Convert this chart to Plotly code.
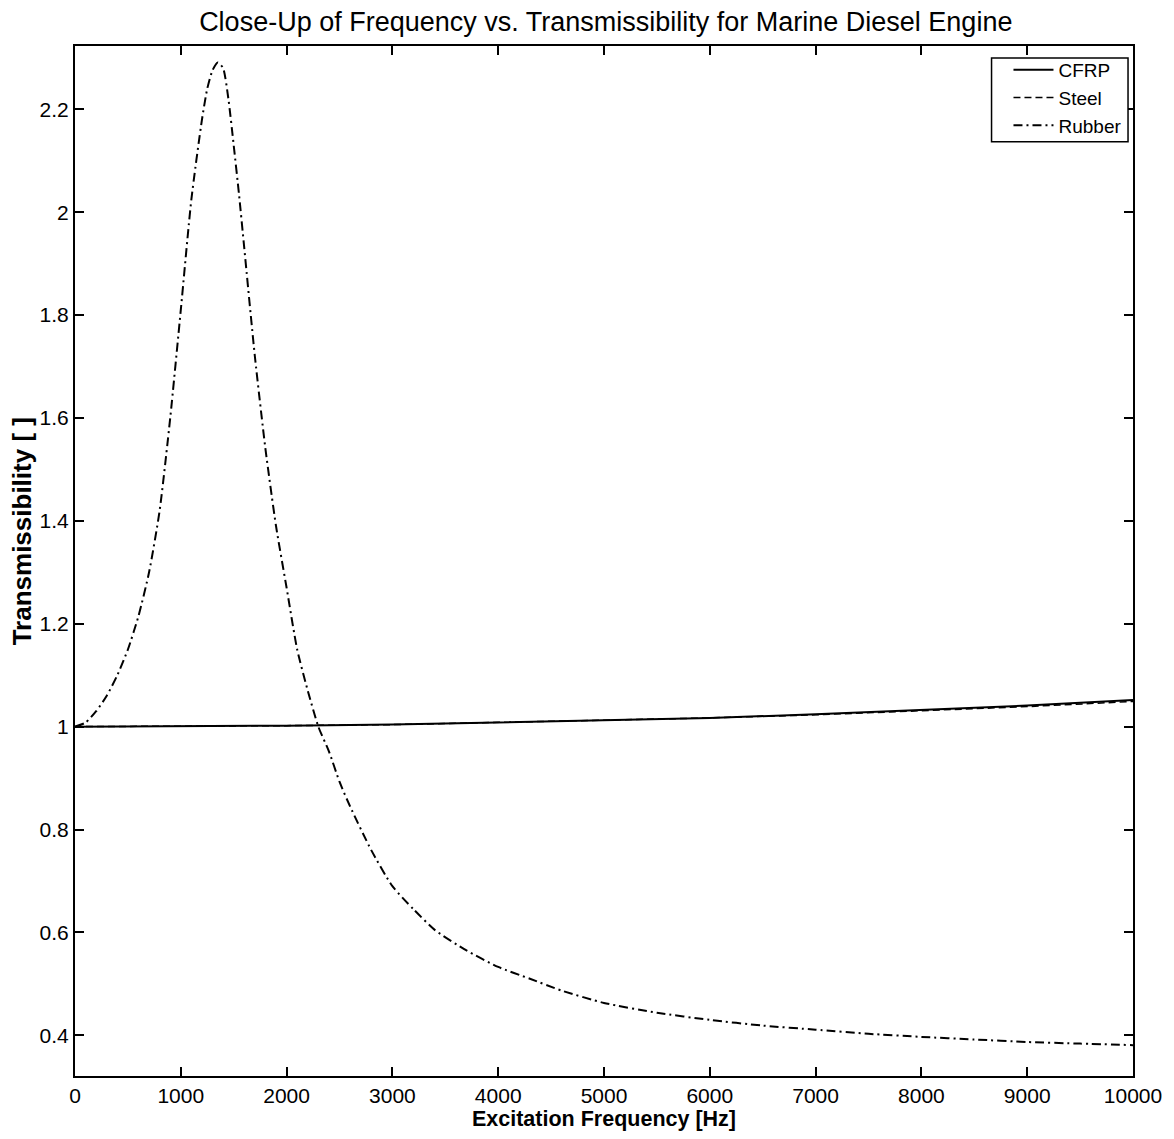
import plotly.graph_objects as go

# ---- data ----
freq_line = [0, 1000, 2000, 3000, 4000, 5000, 6000, 7000, 8000, 9000, 10000]
cfrp = [1.0, 1.0005, 1.002, 1.004, 1.008, 1.012, 1.017, 1.024, 1.032, 1.041, 1.052]
steel = [1.0, 1.0005, 1.002, 1.004, 1.008, 1.012, 1.017, 1.023, 1.031, 1.039, 1.049]

freq_rubber = [0, 100, 200, 300, 400, 500, 600, 700, 800, 900, 1000, 1100, 1200,
               1250, 1300, 1350, 1400, 1450, 1500, 1550, 1600, 1700, 1800, 1900,
               2000, 2100, 2200, 2300, 2400, 2500, 2600, 2800, 3000, 3200, 3400,
               3700, 4000, 4300, 4600, 5000, 5500, 6000, 6500, 7000, 7500, 8000,
               8500, 9000, 9500, 10000]
rubber = [1.0, 1.008, 1.03, 1.06, 1.10, 1.15, 1.215, 1.30, 1.42, 1.60, 1.81,
          2.025, 2.18, 2.24, 2.276, 2.291, 2.28, 2.22, 2.13, 2.035, 1.93, 1.72,
          1.54, 1.39, 1.27, 1.15, 1.07, 1.0, 0.952, 0.893, 0.845, 0.76, 0.69,
          0.645, 0.605, 0.565, 0.533, 0.51, 0.487, 0.463, 0.444, 0.43, 0.419,
          0.411, 0.403, 0.397, 0.392, 0.387, 0.384, 0.381]

x_ticks = [0, 1000, 2000, 3000, 4000, 5000, 6000, 7000, 8000, 9000, 10000]
x_labels = ["0", "1000", "2000", "3000", "4000", "5000", "6000", "7000", "8000", "9000", "10000"]
y_ticks = [0.4, 0.6, 0.8, 1.0, 1.2, 1.4, 1.6, 1.8, 2.0, 2.2]
y_labels = ["0.4", "0.6", "0.8", "1", "1.2", "1.4", "1.6", "1.8", "2", "2.2"]

FONT = "Liberation Sans, Arial, sans-serif"

fig = go.Figure()
fig.add_trace(go.Scatter(x=freq_line, y=cfrp, mode="lines", name="CFRP",
                         line=dict(color="black", width=2, dash="solid")))
fig.add_trace(go.Scatter(x=freq_line, y=steel, mode="lines", name="Steel",
                         line=dict(color="black", width=1.5, dash="7px,4px")))
fig.add_trace(go.Scatter(x=freq_rubber, y=rubber, mode="lines", name="Rubber",
                         line=dict(color="black", width=2, dash="9px,4px,2px,4px",
                                   shape="spline", smoothing=0.6)))

axis_common = dict(showline=True, linecolor="black", linewidth=2, mirror="allticks",
                   ticks="inside", ticklen=9, tickwidth=1.5, tickcolor="black",
                   showgrid=False, zeroline=False,
                   tickfont=dict(family=FONT, size=21, color="black"))

fig.update_layout(
    width=1174, height=1139,
    margin=dict(l=75, r=37, t=46, b=61),
    paper_bgcolor="white", plot_bgcolor="white",
    title=dict(text="Close-Up of Frequency vs. Transmissibility for Marine Diesel Engine",
               x=0.516, xanchor="center", y=0.981, yanchor="middle",
               font=dict(family=FONT, size=27, color="black")),
    xaxis=dict(range=[0, 10000], tickvals=x_ticks, ticktext=x_labels,
               title=dict(text="<b>Excitation Frequency [Hz]</b>", standoff=5,
                          font=dict(family=FONT, size=21.5, color="black")),
               **axis_common),
    yaxis=dict(range=[0.321, 2.323], tickvals=y_ticks, ticktext=y_labels,
               **axis_common),
    legend=dict(x=0.8823, y=0.9952, xanchor="left", yanchor="top",
                bgcolor="rgba(0,0,0,0)", borderwidth=0,
                font=dict(family=FONT, size=19, color="black"),
                tracegroupgap=0, itemwidth=40),
    showlegend=True,
    shapes=[dict(type="rect", xref="paper", yref="paper",
                 x0=0.8663, x1=0.9953, y0=0.907, y1=0.9884,
                 line=dict(color="black", width=1.5), fillcolor="white",
                 layer="above")],
    annotations=[dict(text="<b>Transmissibility [ ]</b>", textangle=-90,
                      xref="paper", yref="paper", x=-0.0499, y=0.529,
                      xanchor="center", yanchor="middle", showarrow=False,
                      font=dict(family=FONT, size=26, color="black"))],
)

fig.write_html("out.html")
